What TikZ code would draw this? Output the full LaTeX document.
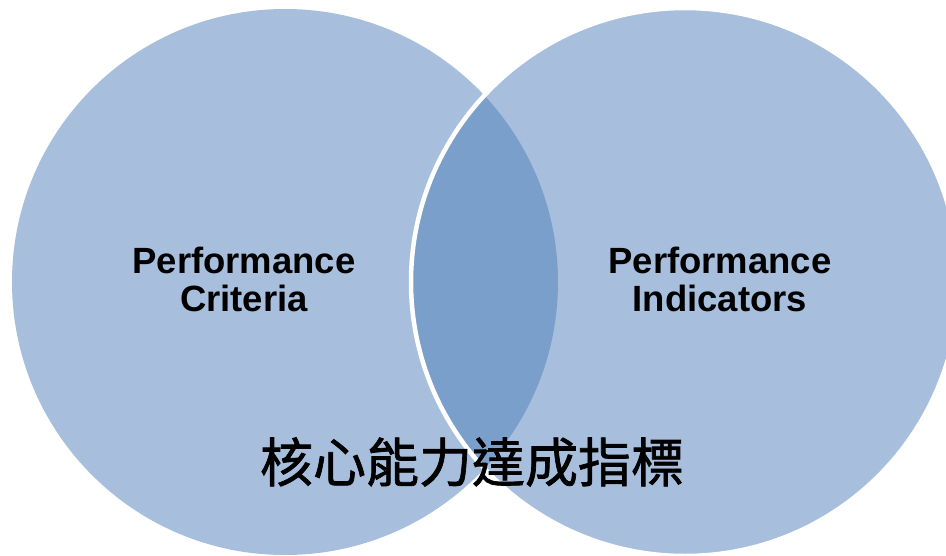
\documentclass[tikz,border=0pt]{standalone}
\usepackage{fontspec}
\setmainfont{Liberation Sans}
\newfontfamily\cjk[FakeBold=1.3]{Noto Sans CJK TC}
\definecolor{circfill}{HTML}{A7BFDD}
\definecolor{lensfill}{HTML}{7B9FCB}
\begin{document}
\begin{tikzpicture}[x=1pt,y=-1pt,
  circ/.style={fill=circfill,draw=none},
  lbl/.style={font=\bfseries\fontsize{36.5}{38}\selectfont,align=center,text=black,inner sep=0pt},
  cjklbl/.style={font=\cjk\fontsize{53}{60}\selectfont,text=black,inner sep=0pt}]
\useasboundingbox (0,0) rectangle (946,555);
\begin{scope}
\clip (0,0) rectangle (946,555);
\fill[circ] (285,282) circle[radius=273];
\fill[circ] (685,282) circle[radius=273];
\begin{scope}
\clip (285,282) circle[radius=273];
\fill[lensfill] (685,282) circle[radius=273];
\end{scope}
\draw[white,line width=4.5pt] (685,282) circle[radius=274];
\end{scope}
\node[lbl] (crit) at (244,279) {Performance\\Criteria};
\node[lbl] (ind) at (720,279) {Performance\\Indicators};
\node[cjklbl] (core) at (472,462) {核心能力達成指標};
\end{tikzpicture}
\end{document}
